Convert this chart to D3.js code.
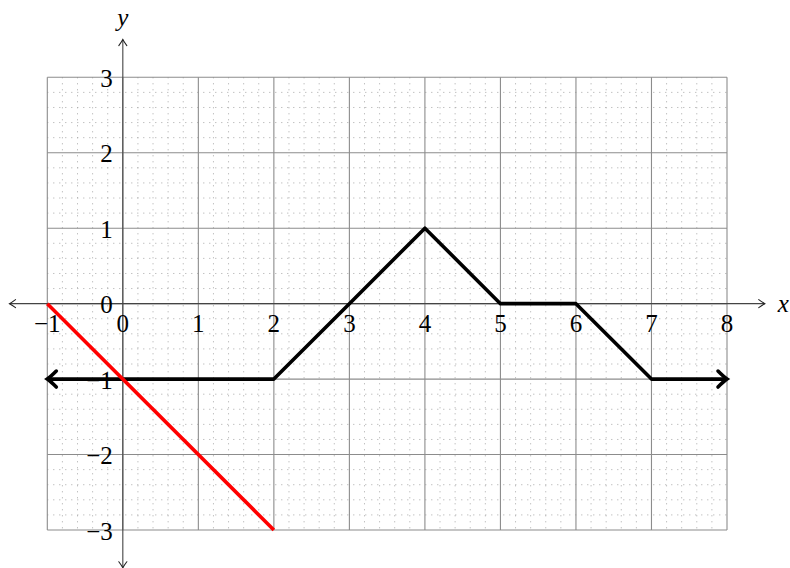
<!DOCTYPE html>
<html><head><meta charset="utf-8">
<script src="https://cdn.jsdelivr.net/npm/d3@7"></script>
<style>body{margin:0;background:#fff}svg{display:block}</style>
</head><body>
<svg id="c" width="790" height="568"></svg>
<script>
const xTicks = [-1,0,1,2,3,4,5,6,7,8];
const yTicks = [-3,-2,-1,0,1,2,3];
const blackX = [-1,2,3,4,5,6,7,8];
const blackY = [-1,-1,0,1,0,0,-1,-1];
const redX = [-1,2];
const redY = [0,-3];

const svg = d3.select("#c");
const x = d3.scaleLinear().domain([-1,8]).range([47.3,727]);
const y = d3.scaleLinear().domain([-3,3]).range([530,77.3]);
const font = "'Liberation Serif','DejaVu Serif',serif";
const fmt = v => v < 0 ? "\u2212" + Math.abs(v) : String(v);

// minor grid (dotted)
const minorX = d3.range(-1, 8.0001, 0.2).filter(v => Math.abs(v - Math.round(v)) > 1e-6);
const minorY = d3.range(-3, 3.0001, 0.2).filter(v => Math.abs(v - Math.round(v)) > 1e-6);
const g = svg.append("g");
g.selectAll(".mx").data(minorX).join("line")
  .attr("x1", d => x(d)).attr("x2", d => x(d)).attr("y1", y(3)).attr("y2", y(-3))
  .attr("stroke", "#a8a8a8").attr("stroke-width", 1).attr("stroke-dasharray", "1,5");
g.selectAll(".my").data(minorY).join("line")
  .attr("y1", d => y(d)).attr("y2", d => y(d)).attr("x1", x(-1)).attr("x2", x(8))
  .attr("stroke", "#a8a8a8").attr("stroke-width", 1).attr("stroke-dasharray", "1,5");
// major grid
g.selectAll(".gx").data(xTicks).join("line")
  .attr("x1", d => x(d)).attr("x2", d => x(d)).attr("y1", y(3)).attr("y2", y(-3))
  .attr("stroke", "#8c8c8c").attr("stroke-width", 1.1);
g.selectAll(".gy").data(yTicks).join("line")
  .attr("y1", d => y(d)).attr("y2", d => y(d)).attr("x1", x(-1)).attr("x2", x(8))
  .attr("stroke", "#8c8c8c").attr("stroke-width", 1.1);

// axes
const ax = svg.append("g").attr("stroke", "#444").attr("fill", "none").attr("stroke-width", 1.1);
ax.append("line").attr("x1", x(-1.5)).attr("x2", x(8.5)).attr("y1", y(0)).attr("y2", y(0));
ax.append("line").attr("x1", x(0)).attr("x2", x(0)).attr("y1", y(3.5)).attr("y2", y(-3.5));
function thinArrow(px, py, ang) {
  ax.append("path")
    .attr("d", "M-6,-4 Q-2,-1 0,0 Q-2,1 -6,4")
    .attr("transform", `translate(${px},${py}) rotate(${ang})`)
    .attr("stroke", "#222").attr("stroke-linecap", "round");
}
thinArrow(x(8.5), y(0), 0);
thinArrow(x(-1.5), y(0), 180);
thinArrow(x(0), y(3.5), -90);
thinArrow(x(0), y(-3.5), 90);

// tick labels
svg.append("g").selectAll("text").data(xTicks).join("text")
  .attr("x", d => x(d)).attr("y", y(0) + 28)
  .attr("text-anchor", "middle").attr("font-family", font).attr("font-size", 25)
  .text(fmt);
svg.append("g").selectAll("text").data(yTicks).join("text")
  .attr("x", x(0) - 10).attr("y", d => y(d) + 1)
  .attr("text-anchor", "end").attr("dominant-baseline", "central")
  .attr("font-family", font).attr("font-size", 25)
  .text(fmt);
svg.append("text").attr("x", x(8.5) + 13).attr("y", y(0)).attr("dominant-baseline", "central")
  .attr("font-family", font).attr("font-style", "italic").attr("font-size", 25).text("x");
svg.append("text").attr("x", x(0)).attr("y", 17).attr("text-anchor", "middle")
  .attr("dominant-baseline", "central")
  .attr("font-family", font).attr("font-style", "italic").attr("font-size", 25).text("y");

// data lines
const line = d3.line().x(d => x(d[0])).y(d => y(d[1]));
const blackPts = blackX.map((v, i) => [v, blackY[i]]);
const redPts = redX.map((v, i) => [v, redY[i]]);
svg.append("path").datum(blackPts).attr("d", line)
  .attr("fill", "none").attr("stroke", "#000").attr("stroke-width", 3.6).attr("stroke-linejoin", "round");
function boldArrow(pt, ang) {
  svg.append("path")
    .attr("d", "M-9,-8 Q-3,-2 0,0 Q-3,2 -9,8")
    .attr("transform", `translate(${x(pt[0])},${y(pt[1])}) rotate(${ang})`)
    .attr("fill", "none").attr("stroke", "#000").attr("stroke-width", 3.6).attr("stroke-linecap", "round");
}
boldArrow(blackPts[0], 180);
boldArrow(blackPts[blackPts.length - 1], 0);
svg.append("path").datum(redPts).attr("d", line)
  .attr("fill", "none").attr("stroke", "#ff0000").attr("stroke-width", 3.6);
</script>
</body></html>
